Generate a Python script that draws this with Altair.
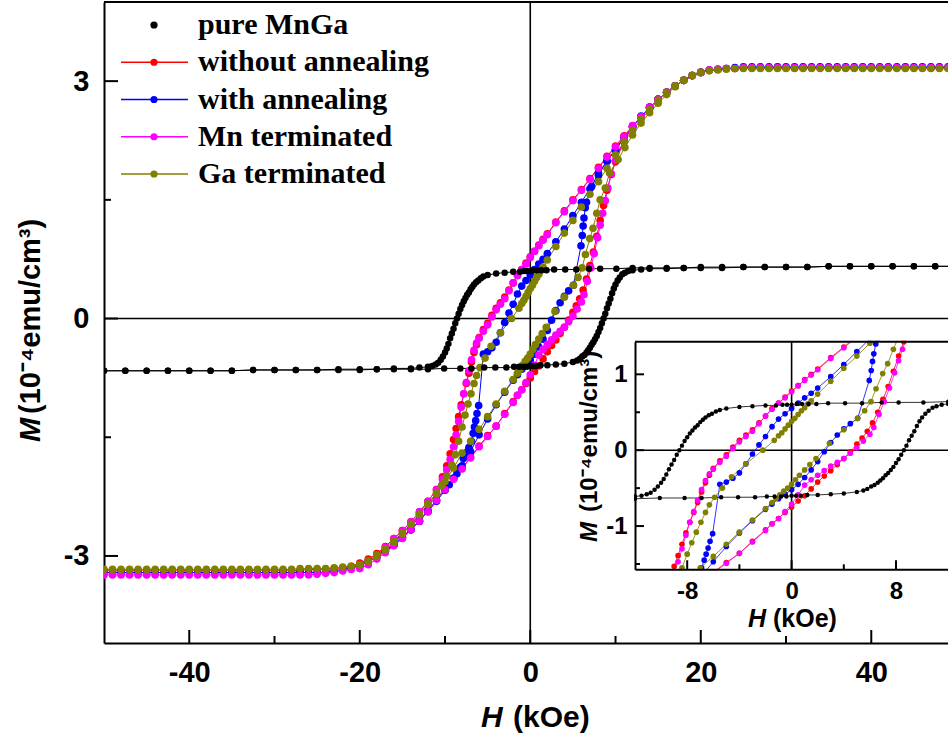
import altair as alt
import pandas as pd

# ---------------------------------------------------------------- data
SERIES = ["pure MnGa", "without annealing", "with annealing", "Mn terminated", "Ga terminated"]
COLORS = ["#000000", "#ff0000", "#0000ff", "#ff00ff", "#808000"]

# field grid of the saturated tails of the four film loops (kOe)
TAIL_POS_H = [50, 49, 48, 47, 46, 45, 44, 43, 42, 41, 40, 39, 38, 37, 36,
              35, 34, 33, 32, 31, 30, 29, 28, 27, 26, 25, 24, 23, 22, 21]
TAIL_NEG_H = [-21, -22, -23, -24, -25, -26, -27, -28, -29, -30, -31, -32, -33, -34, -35,
              -36, -37, -38, -39, -40, -41, -42, -43, -44, -45, -46, -47, -48, -49, -50]

# ---- without annealing (red)
RED_TAIL_POS_M = [3.17, 3.17, 3.17, 3.17, 3.17, 3.17, 3.17, 3.17, 3.17, 3.17, 3.17, 3.17, 3.17, 3.17, 3.17,
                  3.17, 3.17, 3.17, 3.17, 3.17, 3.17, 3.17, 3.17, 3.17, 3.17, 3.17, 3.16, 3.16, 3.15, 3.14]
RED_TAIL_NEG_M = [-3.13, -3.15, -3.16, -3.17, -3.17, -3.17, -3.18, -3.18, -3.18, -3.18, -3.18, -3.18, -3.18, -3.18, -3.18,
                  -3.18, -3.18, -3.18, -3.18, -3.18, -3.18, -3.18, -3.18, -3.18, -3.18, -3.18, -3.18, -3.18, -3.18, -3.18]
RED_DESC_H = [20, 19, 18, 17, 16, 15, 14, 13, 12, 11, 10, 9, 8, 7, 6, 5, 4, 3, 2,
              1.5, 1, 0.5, 0, -0.5, -1, -1.5, -2, -2.5, -3, -3.5, -4, -4.5, -5, -5.5,
              -6, -6.3, -6.6, -6.9, -7.2, -7.5, -7.8, -8.1, -8.4, -8.7, -9.0,
              -9.4, -9.8, -10.3, -11,
              -12, -13, -14, -15, -16, -17, -18, -19, -20]
RED_DESC_M = [3.11, 3.07, 3.01, 2.94, 2.86, 2.77, 2.67, 2.55, 2.43, 2.31, 2.18, 2.05, 1.91, 1.77, 1.63, 1.50, 1.36, 1.22, 1.07,
              1.00, 0.93, 0.85, 0.78, 0.70, 0.62, 0.55, 0.45, 0.36, 0.27, 0.20, 0.13, 0.04, -0.06, -0.14,
              -0.24, -0.33, -0.43, -0.55, -0.69, -0.82, -0.95, -1.09, -1.24, -1.39, -1.53,
              -1.71, -1.86, -2.00, -2.16,
              -2.31, -2.45, -2.57, -2.68, -2.78, -2.88, -2.97, -3.04, -3.09]
RED_ASC_H = [-20, -19, -18, -17, -16, -15, -14, -13, -12, -11, -10, -9, -8, -7, -6, -5, -4, -3, -2,
             -1.5, -1, -0.5, 0, 0.5, 1, 1.5, 2, 2.5, 3, 3.5, 4, 4.5, 5,
             5.4, 5.8, 6.2, 6.6, 7.0, 7.4, 7.8, 8.2, 8.6, 9.0,
             9.5, 10,
             11, 12, 13, 14, 15, 16, 17, 18, 19, 20]
RED_ASC_M = [-3.11, -3.06, -3.00, -2.93, -2.85, -2.76, -2.66, -2.55, -2.43, -2.29, -2.15, -2.02, -1.89, -1.75, -1.61, -1.48, -1.36, -1.20, -1.05,
             -0.97, -0.90, -0.82, -0.75, -0.67, -0.60, -0.51, -0.42, -0.34, -0.27, -0.19, -0.11, -0.02, 0.08,
             0.16, 0.25, 0.36, 0.50, 0.67, 0.84, 1.04, 1.24, 1.43, 1.62,
             1.82, 1.98,
             2.24, 2.43, 2.55, 2.67, 2.77, 2.86, 2.94, 3.01, 3.07, 3.11]

# ---- with annealing (blue)
BLUE_TAIL_POS_M = [3.18, 3.18, 3.18, 3.18, 3.18, 3.18, 3.18, 3.18, 3.18, 3.18, 3.18, 3.18, 3.18, 3.18, 3.18,
                   3.18, 3.18, 3.18, 3.18, 3.18, 3.18, 3.18, 3.18, 3.18, 3.18, 3.18, 3.17, 3.16, 3.15, 3.14]
BLUE_TAIL_NEG_M = [-3.15, -3.17, -3.19, -3.20, -3.21, -3.21, -3.21, -3.21, -3.21, -3.21, -3.21, -3.21, -3.21, -3.21, -3.21,
                   -3.21, -3.21, -3.21, -3.21, -3.21, -3.21, -3.21, -3.21, -3.21, -3.21, -3.21, -3.21, -3.21, -3.21, -3.21]
BLUE_DESC_H = [20, 19, 18, 17, 16, 15, 14, 13, 12, 11, 10, 9, 8, 7, 6, 5, 4, 3, 2,
               1.5, 1, 0.5, 0, -0.5, -1, -1.5, -2, -2.5, -3, -3.5, -4, -4.5, -5, -5.5,
               -6.05, -6.25, -6.4, -6.55, -6.7, -6.9, -7.2, -7.5, -7.85, -8.2, -8.6, -9.0, -9.5,
               -10, -11, -12, -13, -14, -15, -16, -17, -18, -19, -20]
BLUE_DESC_M = [3.11, 3.07, 3.01, 2.94, 2.86, 2.77, 2.67, 2.56, 2.42, 2.28, 2.13, 1.99, 1.81, 1.64, 1.47, 1.30, 1.13, 0.97, 0.82,
               0.75, 0.69, 0.62, 0.55, 0.48, 0.41, 0.31, 0.18, 0.07, -0.05, -0.18, -0.30, -0.37, -0.42, -0.45,
               -1.10, -1.20, -1.29, -1.37, -1.45, -1.55, -1.63, -1.70, -1.77, -1.88, -1.96, -2.02, -2.10,
               -2.16, -2.30, -2.43, -2.56, -2.67, -2.77, -2.86, -2.94, -3.01, -3.07, -3.12]
BLUE_ASC_H = [-20, -19, -18, -17, -16, -15, -14, -13, -12, -11, -10, -9, -8, -7, -6, -5, -4, -3, -2,
              -1.5, -1, -0.5, 0, 0.5, 1, 1.5, 2, 2.5, 3, 3.5, 4, 4.5, 5.06,
              5.95, 6.1, 6.2, 6.3, 6.45, 6.6, 7.2, 8.0,
              9, 10, 11, 12, 13, 14, 15, 16, 17, 18, 19, 20]
BLUE_ASC_M = [-3.12, -3.07, -3.01, -2.94, -2.86, -2.77, -2.67, -2.56, -2.44, -2.31, -2.17, -2.02, -1.86, -1.68, -1.47, -1.27, -1.09, -0.93, -0.78,
              -0.71, -0.64, -0.58, -0.52, -0.45, -0.36, -0.26, -0.15, -0.02, 0.10, 0.20, 0.28, 0.35, 0.42,
              0.92, 1.05, 1.17, 1.27, 1.40, 1.47, 1.67, 1.84,
              1.99, 2.14, 2.29, 2.42, 2.55, 2.67, 2.77, 2.86, 2.94, 3.01, 3.07, 3.11]

# ---- Mn terminated (magenta)
MAG_TAIL_POS_M = [3.17, 3.17, 3.17, 3.17, 3.17, 3.17, 3.17, 3.17, 3.17, 3.17, 3.17, 3.17, 3.17, 3.17, 3.17,
                  3.17, 3.17, 3.17, 3.17, 3.17, 3.17, 3.17, 3.17, 3.17, 3.17, 3.17, 3.16, 3.16, 3.15, 3.14]
MAG_TAIL_NEG_M = [-3.17, -3.19, -3.21, -3.22, -3.23, -3.24, -3.24, -3.24, -3.24, -3.24, -3.24, -3.24, -3.24, -3.24, -3.24,
                  -3.24, -3.24, -3.24, -3.24, -3.24, -3.24, -3.24, -3.24, -3.24, -3.24, -3.24, -3.24, -3.24, -3.24, -3.24]
MAG_DESC_H = [20, 19, 18, 17, 16, 15, 14, 13, 12, 11, 10, 9, 8, 7, 6, 5, 4, 3, 2,
              1.5, 1, 0.5, 0, -0.5, -1, -1.5, -2, -2.5, -3, -3.5, -4, -4.5, -5, -5.5,
              -6, -6.3, -6.6, -6.9, -7.2, -7.5, -7.8, -8.1, -8.4, -8.7, -9.0,
              -9.4, -9.8, -10.3, -11,
              -12, -13, -14, -15, -16, -17, -18, -19, -20]
MAG_DESC_M = [3.11, 3.07, 3.01, 2.94, 2.86, 2.77, 2.67, 2.55, 2.43, 2.30, 2.17, 2.04, 1.90, 1.76, 1.62, 1.49, 1.35, 1.21, 1.06,
              0.99, 0.92, 0.85, 0.77, 0.69, 0.62, 0.54, 0.45, 0.35, 0.25, 0.18, 0.11, 0.02, -0.08, -0.16,
              -0.25, -0.31, -0.40, -0.52, -0.66, -0.81, -0.95, -1.12, -1.30, -1.47, -1.62,
              -1.78, -1.91, -2.03, -2.16,
              -2.31, -2.44, -2.57, -2.68, -2.78, -2.89, -2.99, -3.07, -3.13]
MAG_ASC_H = [-20, -19, -18, -17, -16, -15, -14, -13, -12, -11, -10, -9, -8, -7, -6, -5, -4, -3, -2,
             -1.5, -1, -0.5, 0, 0.5, 1, 1.5, 2, 2.5, 3, 3.5, 4, 4.5, 5,
             5.5, 6.0, 6.3, 6.7, 7.1, 7.5, 7.9, 8.2, 8.5, 8.8, 9.1, 9.5,
             10, 11, 12, 13, 14, 15, 16, 17, 18, 19, 20]
MAG_ASC_M = [-3.16, -3.11, -3.04, -2.96, -2.87, -2.78, -2.67, -2.56, -2.44, -2.30, -2.16, -2.03, -1.90, -1.76, -1.62, -1.49, -1.36, -1.21, -1.06,
             -0.97, -0.90, -0.81, -0.71, -0.59, -0.46, -0.39, -0.33, -0.27, -0.21, -0.16, -0.11, -0.04, 0.03,
             0.12, 0.21, 0.30, 0.47, 0.64, 0.82, 1.02, 1.18, 1.33, 1.49, 1.65, 1.83,
             2.00, 2.26, 2.44, 2.55, 2.67, 2.77, 2.86, 2.94, 3.01, 3.07, 3.11]

# ---- Ga terminated (olive)
OLIVE_TAIL_POS_M = [3.16, 3.16, 3.16, 3.16, 3.16, 3.16, 3.16, 3.16, 3.16, 3.16, 3.16, 3.16, 3.16, 3.16, 3.16,
                    3.16, 3.16, 3.16, 3.16, 3.16, 3.16, 3.16, 3.16, 3.16, 3.16, 3.16, 3.16, 3.15, 3.14, 3.13]
OLIVE_TAIL_NEG_M = [-3.13, -3.14, -3.15, -3.16, -3.16, -3.16, -3.16, -3.17, -3.17, -3.17, -3.17, -3.17, -3.17, -3.17, -3.17,
                    -3.17, -3.17, -3.17, -3.17, -3.17, -3.17, -3.17, -3.17, -3.17, -3.17, -3.17, -3.17, -3.17, -3.17, -3.17]
OLIVE_DESC_H = [20, 19, 18, 17, 16, 15, 14, 13, 12, 11, 10, 9, 8, 7, 6, 5, 4, 3, 2,
                1.5, 1.25, 1.0, 0.75, 0.5, 0.25, 0, -0.25, -0.5, -0.75, -1.0, -1.33,
                -2.2, -3.5, -4.6,
                -5.3, -5.9, -6.3, -6.6, -6.95, -7.3, -7.65, -8.0, -8.4, -8.8, -9.2, -9.8, -10.4, -11,
                -12, -13, -14, -15, -16, -17, -18, -19, -20]
OLIVE_DESC_M = [3.11, 3.07, 3.01, 2.94, 2.86, 2.76, 2.64, 2.52, 2.38, 2.23, 2.07, 1.90, 1.73, 1.57, 1.41, 1.24, 1.08, 0.91, 0.74,
                0.65, 0.61, 0.56, 0.52, 0.47, 0.42, 0.38, 0.33, 0.28, 0.23, 0.19, 0.13,
                0.00, -0.18, -0.35,
                -0.50, -0.62, -0.72, -0.82, -0.95, -1.08, -1.22, -1.37, -1.55, -1.72, -1.85, -1.99, -2.11, -2.21,
                -2.35, -2.48, -2.60, -2.71, -2.81, -2.91, -2.99, -3.06, -3.11]
OLIVE_ASC_H = [-20, -19, -18, -17, -16, -15, -14, -13, -12, -11, -10, -9, -8, -7, -6, -5, -4, -3, -2,
               -1.5, -1.2, -0.9, -0.6, -0.3, 0, 0.3, 0.6, 1.0, 1.4, 1.87, 2.9, 4.0, 5.06, 5.6,
               6.08, 6.47, 6.98, 7.36, 7.8, 8.2, 8.8, 9.3, 10.3, 11.1,
               12, 13, 14, 15, 16, 17, 18, 19, 20]
OLIVE_ASC_M = [-3.11, -3.07, -3.01, -2.93, -2.83, -2.72, -2.60, -2.47, -2.34, -2.20, -2.06, -1.89, -1.70, -1.55, -1.40, -1.24, -1.08, -0.92, -0.77,
               -0.69, -0.64, -0.59, -0.54, -0.50, -0.45, -0.39, -0.33, -0.26, -0.19, -0.11, 0.09, 0.27, 0.42, 0.52,
               0.64, 0.81, 1.01, 1.14, 1.33, 1.50, 1.65, 1.84, 2.01, 2.16,
               2.32, 2.47, 2.60, 2.72, 2.83, 2.93, 3.01, 3.07, 3.11]

# ---- pure MnGa (black)
BLACK_DESC_H = [50, 47.5, 45, 42.5, 40, 37.5, 35, 32.5, 30, 27.5, 25, 22.5, 20, 18, 16, 14, 12,
                10.1, 8.2, 6.9, 5.4, 4.1, 2.8, 1.9, 1.3, 0.8, 0.4, 0.0, -0.35, -0.7, -1.2, -2.0, -3.0, -4.0, -5.0,
                -5.5, -5.8, -6.1, -6.35, -6.6, -6.8, -7.0, -7.2, -7.4, -7.6, -7.8, -8.0, -8.2, -8.4,
                -8.6, -8.8, -9.0, -9.2, -9.4, -9.6, -9.8, -10.0, -10.25, -10.5, -10.8, -11.1, -11.5, -12.0,
                -13, -14, -16, -18, -20, -22.5, -25, -27.5, -30, -32.5, -35, -37.5, -40, -42.5, -45, -47.5, -50]
BLACK_DESC_M = [0.66, 0.66, 0.66, 0.66, 0.66, 0.66, 0.66, 0.65, 0.65, 0.65, 0.65, 0.65, 0.65, 0.64, 0.64, 0.64, 0.64,
                0.63, 0.63, 0.63, 0.62, 0.62, 0.62, 0.61, 0.61, 0.61, 0.61, 0.60, 0.60, 0.60, 0.59, 0.59, 0.58, 0.57, 0.55,
                0.53, 0.51, 0.48, 0.46, 0.43, 0.40, 0.37, 0.33, 0.30, 0.26, 0.22, 0.17, 0.12, 0.06,
                0.00, -0.06, -0.13, -0.19, -0.25, -0.32, -0.38, -0.43, -0.48, -0.52, -0.56, -0.58, -0.60, -0.61,
                -0.62, -0.63, -0.63, -0.64, -0.64, -0.64, -0.65, -0.65, -0.65, -0.65, -0.66, -0.66, -0.66, -0.66, -0.66, -0.66, -0.66]
BLACK_ASC_H = [-50, -47.5, -45, -42.5, -40, -37.5, -35, -32.5, -30, -27.5, -25, -22.5, -20, -18, -16, -14, -12,
               -10.1, -8.2, -6.9, -5.4, -4.1, -2.8, -1.9, -1.3, -0.8, -0.4, 0.0, 0.35, 0.7, 1.2, 2.0, 3.0, 4.0, 5.0,
               5.5, 5.8, 6.1, 6.35, 6.6, 6.8, 7.0, 7.2, 7.4, 7.6, 7.8, 8.0, 8.2, 8.4,
               8.6, 8.8, 9.0, 9.2, 9.4, 9.6, 9.8, 10.0, 10.25, 10.5, 10.8, 11.1, 11.5, 12.0,
               13, 14, 16, 18, 20, 22.5, 25, 27.5, 30, 32.5, 35, 37.5, 40, 42.5, 45, 47.5, 50]
BLACK_ASC_M = [-0.66, -0.66, -0.66, -0.66, -0.66, -0.66, -0.66, -0.65, -0.65, -0.65, -0.65, -0.65, -0.65, -0.64, -0.64, -0.64, -0.64,
               -0.63, -0.63, -0.63, -0.62, -0.62, -0.62, -0.61, -0.61, -0.61, -0.61, -0.60, -0.60, -0.60, -0.59, -0.59, -0.58, -0.57, -0.55,
               -0.53, -0.51, -0.48, -0.46, -0.43, -0.40, -0.37, -0.33, -0.30, -0.26, -0.22, -0.17, -0.12, -0.06,
               0.00, 0.06, 0.13, 0.19, 0.25, 0.32, 0.38, 0.43, 0.48, 0.52, 0.56, 0.58, 0.60, 0.61,
               0.62, 0.63, 0.63, 0.64, 0.64, 0.64, 0.65, 0.65, 0.65, 0.65, 0.66, 0.66, 0.66, 0.66, 0.66, 0.66, 0.66]

# axis ticks
MAIN_X_MAJOR = [-40, -20, 0, 20, 40]
MAIN_X_MINOR = [-30, -10, 10, 30]
MAIN_Y_MAJOR = [-3, 0, 3]
MAIN_Y_MINOR = [-1.5, 1.5]
INSET_X_MAJOR = [-8, 0, 8]
INSET_X_MINOR = [-4, 4]
INSET_Y_MAJOR = [-1, 0, 1]
INSET_Y_MINOR = [-1.5, -0.5, 0.5]

MAIN_H_DOMAIN = [-50, 49]
MAIN_M_DOMAIN = [-4.1, 4.0]
INSET_H_DOMAIN = [-12, 12]
INSET_M_DOMAIN = [-1.57, 1.43]

# ---------------------------------------------------------------- table
records = []


def add_branch(series, branch, hs, ms):
    assert len(hs) == len(ms), (series, branch, len(hs), len(ms))
    for i, (h, m) in enumerate(zip(hs, ms)):
        records.append({"series": series, "branch": branch, "step": i, "H": h, "M": m})


films = [
    ("without annealing", RED_TAIL_POS_M, RED_DESC_H, RED_DESC_M, RED_TAIL_NEG_M, RED_ASC_H, RED_ASC_M),
    ("with annealing", BLUE_TAIL_POS_M, BLUE_DESC_H, BLUE_DESC_M, BLUE_TAIL_NEG_M, BLUE_ASC_H, BLUE_ASC_M),
    ("Mn terminated", MAG_TAIL_POS_M, MAG_DESC_H, MAG_DESC_M, MAG_TAIL_NEG_M, MAG_ASC_H, MAG_ASC_M),
    ("Ga terminated", OLIVE_TAIL_POS_M, OLIVE_DESC_H, OLIVE_DESC_M, OLIVE_TAIL_NEG_M, OLIVE_ASC_H, OLIVE_ASC_M),
]
for name, tail_pos, dh, dm, tail_neg, ah, am in films:
    add_branch(name, "down", TAIL_POS_H + dh + TAIL_NEG_H, tail_pos + dm + tail_neg)
    add_branch(name, "up", ah, am)
add_branch("pure MnGa", "down", BLACK_DESC_H, BLACK_DESC_M)
add_branch("pure MnGa", "up", BLACK_ASC_H, BLACK_ASC_M)
loops = pd.DataFrame(records)

# ---------------------------------------------------------------- geometry (px)
W, HT = 844, 641
IN_L, IN_R = 531, 844.2
IN_T, IN_B = 339.7, 567.3

SANS = "Liberation Sans"
SERIF = "Liberation Serif"

color = alt.Color("series:N", scale=alt.Scale(domain=SERIES, range=COLORS), legend=None)


def axis_style(**kw):
    return alt.Axis(ticks=False, tickSize=0, grid=False, title=None,
                    labelFont=SANS, labelFontWeight="bold", labelColor="black",
                    labelExpr="'' + datum.value", domainColor="black", domainWidth=2, **kw)


# ---------------------------------------------------------------- main panel
mx = alt.X("H:Q", scale=alt.Scale(domain=MAIN_H_DOMAIN, nice=False, zero=False),
           axis=axis_style(orient="bottom", values=MAIN_X_MAJOR, labelFontSize=29, labelPadding=15))
my = alt.Y("M:Q", scale=alt.Scale(domain=MAIN_M_DOMAIN, nice=False, zero=False),
           axis=axis_style(orient="left", values=MAIN_Y_MAJOR, labelFontSize=29, labelPadding=15))

films_only = "datum.series != 'pure MnGa'"
black_only = "datum.series == 'pure MnGa'"

main_layers = [
    alt.Chart(pd.DataFrame({"H": [0]})).mark_rule(color="black", strokeWidth=1.6).encode(x=mx),
    alt.Chart(pd.DataFrame({"M": [0]})).mark_rule(color="black", strokeWidth=1.6).encode(y=my),
    alt.Chart(loops).mark_line(strokeWidth=1, clip=True).encode(
        x=mx, y=my, color=color, detail="branch:N", order="step:Q"),
    alt.Chart(loops).transform_filter(films_only).mark_circle(size=58, opacity=1, clip=True).encode(
        x=mx, y=my, color=color),
    alt.Chart(loops).transform_filter(black_only).mark_circle(size=42, opacity=1, clip=True).encode(
        x=mx, y=my, color=color),
    # inward ticks
    alt.Chart(pd.DataFrame({"H": MAIN_X_MAJOR})).mark_rule(color="black", strokeWidth=2).encode(
        x=mx, y=alt.value(HT), y2=alt.value(HT - 13)),
    alt.Chart(pd.DataFrame({"H": MAIN_X_MINOR})).mark_rule(color="black", strokeWidth=2).encode(
        x=mx, y=alt.value(HT), y2=alt.value(HT - 7)),
    alt.Chart(pd.DataFrame({"M": MAIN_Y_MAJOR})).mark_rule(color="black", strokeWidth=2).encode(
        y=my, x=alt.value(0), x2=alt.value(14)),
    alt.Chart(pd.DataFrame({"M": MAIN_Y_MINOR})).mark_rule(color="black", strokeWidth=2).encode(
        y=my, x=alt.value(0), x2=alt.value(7)),
    # top frame line
    alt.Chart(pd.DataFrame({"M": [MAIN_M_DOMAIN[1]]})).mark_rule(color="black", strokeWidth=2).encode(y=my),
]
main = alt.layer(*main_layers)

# ---------------------------------------------------------------- inset panel
ix = alt.X("H:Q", scale=alt.Scale(domain=INSET_H_DOMAIN, range=[IN_L, IN_R], nice=False, zero=False),
           axis=axis_style(orient="bottom", offset=IN_B - HT, values=INSET_X_MAJOR,
                           labelFontSize=24, labelPadding=10, zindex=1))
iy = alt.Y("M:Q", scale=alt.Scale(domain=INSET_M_DOMAIN, range=[IN_B, IN_T], nice=False, zero=False),
           axis=axis_style(orient="left", offset=-IN_L, values=INSET_Y_MAJOR,
                           labelFontSize=24, labelPadding=8, zindex=1))

window = "datum.H >= -13.5 && datum.H <= 13.5 && datum.M >= -1.95 && datum.M <= 1.8"
one = pd.DataFrame({"k": [0]})

inset_layers = [
    alt.Chart(pd.DataFrame({"H": [0], "M": [INSET_M_DOMAIN[0]], "M2": [INSET_M_DOMAIN[1]]}))
    .mark_rule(color="black", strokeWidth=1.6).encode(x=ix, y=iy, y2="M2:Q"),
    alt.Chart(pd.DataFrame({"H": [INSET_H_DOMAIN[0]], "H2": [INSET_H_DOMAIN[1]], "M": [0]}))
    .mark_rule(color="black", strokeWidth=1.6).encode(x=ix, x2="H2:Q", y=iy),
    alt.Chart(loops).transform_filter(window).mark_line(strokeWidth=0.8).encode(
        x=ix, y=iy, color=color, detail="branch:N", order="step:Q"),
    alt.Chart(loops).transform_filter(window).transform_filter(films_only)
    .mark_circle(size=32, opacity=1).encode(x=ix, y=iy, color=color),
    alt.Chart(loops).transform_filter(window).transform_filter(black_only)
    .mark_circle(size=20, opacity=1).encode(x=ix, y=iy, color=color),
    # white surround so the inset curves end at its frame
    alt.Chart(one).mark_rect(color="white").encode(
        x=alt.value(IN_L - 50), x2=alt.value(IN_R + 10), y=alt.value(IN_T - 50), y2=alt.value(IN_T - 1)),
    alt.Chart(one).mark_rect(color="white").encode(
        x=alt.value(IN_L - 50), x2=alt.value(IN_R + 10), y=alt.value(IN_B + 1), y2=alt.value(IN_B + 48)),
    alt.Chart(one).mark_rect(color="white").encode(
        x=alt.value(IN_L - 50), x2=alt.value(IN_L - 1), y=alt.value(IN_T - 50), y2=alt.value(IN_B + 48)),
    # inset frame top and inward ticks
    alt.Chart(pd.DataFrame({"H": [INSET_H_DOMAIN[0]], "H2": [INSET_H_DOMAIN[1]], "M": [INSET_M_DOMAIN[1]]}))
    .mark_rule(color="black", strokeWidth=2).encode(x=ix, x2="H2:Q", y=iy),
    alt.Chart(pd.DataFrame({"H": INSET_X_MAJOR})).mark_rule(color="black", strokeWidth=2).encode(
        x=ix, y=alt.value(IN_B), y2=alt.value(IN_B - 9)),
    alt.Chart(pd.DataFrame({"H": INSET_X_MINOR})).mark_rule(color="black", strokeWidth=2).encode(
        x=ix, y=alt.value(IN_B), y2=alt.value(IN_B - 5)),
    alt.Chart(pd.DataFrame({"M": INSET_Y_MAJOR})).mark_rule(color="black", strokeWidth=2).encode(
        y=iy, x=alt.value(IN_L), x2=alt.value(IN_L + 9)),
    alt.Chart(pd.DataFrame({"M": INSET_Y_MINOR})).mark_rule(color="black", strokeWidth=2).encode(
        y=iy, x=alt.value(IN_L), x2=alt.value(IN_L + 5)),
]
inset = alt.layer(*inset_layers)

# ---------------------------------------------------------------- legend and axis titles
legend_rows = pd.DataFrame({"series": SERIES, "row": [0, 1, 2, 3, 4]})
ly = alt.Y("row:Q", scale=alt.Scale(domain=[0, 4], range=[23, 172], nice=False, zero=False), axis=None)


def title_text(text, x, y, size, italic=False, angle=0):
    props = dict(text=text, font=SANS, fontWeight="bold", fontSize=size, align="left",
                 baseline="alphabetic", color="black")
    if italic:
        props["fontStyle"] = "italic"
    if angle:
        props["angle"] = angle
    return alt.Chart(one).mark_text(**props).encode(x=alt.value(x), y=alt.value(y))


UNIT = "(10\u207b\u2074emu/cm\u00b3)"

deco = alt.layer(
    alt.Chart(legend_rows).transform_filter("datum.row > 0").mark_rule(strokeWidth=1.5).encode(
        x=alt.value(17), x2=alt.value(84), y=ly, color=color),
    alt.Chart(legend_rows).mark_circle(size=52, opacity=1).encode(x=alt.value(50), y=ly, color=color),
    alt.Chart(legend_rows).mark_text(align="left", baseline="middle", font=SERIF, fontWeight="bold",
                                     fontSize=30, color="black").encode(
        x=alt.value(94), y=ly, text="series:N"),
    title_text("H", 377, 725, 30, italic=True),
    title_text("(kOe)", 409, 725, 30),
    title_text("M", -64, 440, 29, italic=True, angle=270),
    title_text(UNIT, -64, 412, 29, angle=270),
    title_text("H", 644, 625, 25, italic=True),
    title_text("(kOe)", 669, 625, 25),
    title_text("M", 493, 540, 24, italic=True, angle=270),
    title_text(UNIT, 493, 510, 24, angle=270),
)

chart = (
    alt.layer(inset, main, deco)
    .resolve_scale(x="independent", y="independent")
    .properties(width=W, height=HT, background="white",
                autosize=alt.AutoSizeParams(type="none"),
                padding={"left": 104, "top": 2, "right": 0, "bottom": 97})
    .configure_view(strokeWidth=0)
)

chart.save("out.html", embed_options={"renderer": "svg", "actions": False})
